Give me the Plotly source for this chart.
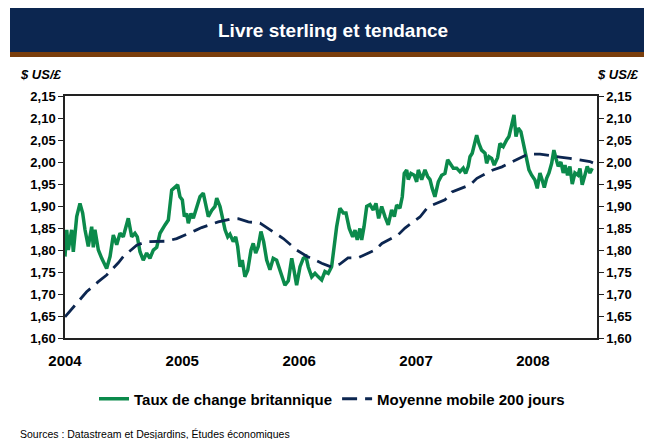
import pandas as pd
import plotly.graph_objects as go

# Taux de change US$/£ (temps en années décimales)
taux_t = [
    2004.000, 2004.015, 2004.028, 2004.057, 2004.071, 2004.100, 2004.128, 2004.151, 2004.171, 2004.199,
    2004.228, 2004.242, 2004.256, 2004.285, 2004.314, 2004.356, 2004.385, 2004.413, 2004.442, 2004.470,
    2004.498, 2004.527, 2004.541, 2004.570, 2004.598, 2004.618, 2004.641, 2004.669, 2004.698, 2004.726,
    2004.755, 2004.784, 2004.812, 2004.855, 2004.883, 2004.912, 2004.940, 2004.963, 2004.983, 2005.003,
    2005.020, 2005.040, 2005.054, 2005.077, 2005.097, 2005.126, 2005.154, 2005.182, 2005.203, 2005.225,
    2005.254, 2005.282, 2005.297, 2005.325, 2005.344, 2005.368, 2005.391, 2005.410, 2005.438, 2005.459,
    2005.476, 2005.496, 2005.515, 2005.538, 2005.562, 2005.590, 2005.609, 2005.630, 2005.652, 2005.675,
    2005.698, 2005.724, 2005.752, 2005.780, 2005.809, 2005.838, 2005.852, 2005.880, 2005.909, 2005.938,
    2005.957, 2005.980, 2006.009, 2006.037, 2006.060, 2006.079, 2006.109, 2006.137, 2006.165, 2006.194,
    2006.222, 2006.250, 2006.279, 2006.293, 2006.322, 2006.350, 2006.379, 2006.402, 2006.430, 2006.459,
    2006.479, 2006.498, 2006.521, 2006.536, 2006.556, 2006.579, 2006.607, 2006.635, 2006.658, 2006.681,
    2006.707, 2006.735, 2006.763, 2006.792, 2006.815, 2006.835, 2006.863, 2006.883, 2006.900, 2006.921,
    2006.934, 2006.957, 2006.985, 2007.006, 2007.020, 2007.049, 2007.077, 2007.100, 2007.120, 2007.139,
    2007.162, 2007.191, 2007.220, 2007.248, 2007.271, 2007.291, 2007.319, 2007.348, 2007.376, 2007.404,
    2007.425, 2007.447, 2007.462, 2007.481, 2007.504, 2007.519, 2007.538, 2007.561, 2007.590, 2007.604,
    2007.624, 2007.647, 2007.669, 2007.698, 2007.718, 2007.746, 2007.775, 2007.795, 2007.818, 2007.838,
    2007.855, 2007.874, 2007.897, 2007.917, 2007.946, 2007.966, 2007.989, 2008.017, 2008.037, 2008.060,
    2008.079, 2008.097, 2008.117, 2008.137, 2008.160, 2008.179, 2008.197, 2008.216, 2008.239, 2008.259,
    2008.274, 2008.296, 2008.316, 2008.336, 2008.359, 2008.385, 2008.402, 2008.421, 2008.444, 2008.464,
    2008.487, 2008.507,
]
taux_val = [
    1.785, 1.846, 1.800, 1.846, 1.796, 1.876, 1.906, 1.884, 1.846, 1.808,
    1.853, 1.806, 1.846, 1.800, 1.781, 1.758, 1.785, 1.834, 1.812, 1.838,
    1.830, 1.861, 1.872, 1.830, 1.838, 1.830, 1.796, 1.777, 1.793, 1.781,
    1.800, 1.806, 1.838, 1.857, 1.868, 1.936, 1.944, 1.948, 1.921, 1.914,
    1.876, 1.883, 1.861, 1.883, 1.872, 1.899, 1.921, 1.929, 1.906, 1.876,
    1.890, 1.899, 1.918, 1.899, 1.876, 1.846, 1.830, 1.836, 1.819, 1.830,
    1.808, 1.762, 1.777, 1.739, 1.754, 1.800, 1.815, 1.793, 1.808, 1.842,
    1.819, 1.777, 1.755, 1.781, 1.777, 1.755, 1.739, 1.720, 1.730, 1.781,
    1.755, 1.720, 1.762, 1.781, 1.785, 1.762, 1.739, 1.747, 1.739, 1.732,
    1.751, 1.747, 1.762, 1.796, 1.853, 1.895, 1.884, 1.884, 1.849, 1.830,
    1.845, 1.823, 1.849, 1.823, 1.853, 1.899, 1.903, 1.891, 1.906, 1.872,
    1.899, 1.876, 1.857, 1.891, 1.876, 1.902, 1.895, 1.921, 1.974, 1.982,
    1.960, 1.974, 1.970, 1.955, 1.982, 1.960, 1.982, 1.967, 1.960, 1.940,
    1.921, 1.955, 1.970, 1.974, 2.005, 1.997, 1.986, 1.986, 1.978, 1.986,
    1.974, 1.990, 2.012, 2.020, 2.046, 2.061, 2.042, 2.027, 2.020, 1.997,
    2.012, 2.008, 1.993, 2.010, 2.042, 2.035, 2.050, 2.058, 2.084, 2.107,
    2.058, 2.077, 2.069, 2.042, 2.005, 1.982, 1.970, 1.959, 1.940, 1.975,
    1.959, 1.942, 1.963, 1.975, 1.997, 2.027, 2.008, 1.990, 2.000, 1.975,
    1.993, 1.970, 1.990, 1.950, 1.975, 1.970, 1.985, 1.948, 1.970, 1.990,
    1.975, 1.986,
]

# Moyenne mobile 200 jours
mm_t = [
    2004.000, 2004.114, 2004.185, 2004.285, 2004.356, 2004.456, 2004.498, 2004.613, 2004.698, 2004.869,
    2004.955, 2005.111, 2005.168, 2005.310, 2005.410, 2005.481, 2005.567, 2005.667, 2005.795, 2005.866,
    2005.980, 2006.066, 2006.194, 2006.279, 2006.350, 2006.419, 2006.504, 2006.650, 2006.709, 2006.846,
    2006.906, 2007.034, 2007.103, 2007.248, 2007.308, 2007.462, 2007.521, 2007.658, 2007.735, 2007.872,
    2007.957, 2008.060, 2008.145, 2008.231, 2008.316, 2008.402, 2008.487, 2008.513,
]
mm_val = [
    1.648, 1.683, 1.705, 1.728, 1.743, 1.771, 1.785, 1.811, 1.819, 1.820,
    1.826, 1.844, 1.851, 1.864, 1.870, 1.871, 1.864, 1.861, 1.838, 1.826,
    1.800, 1.786, 1.770, 1.761, 1.768, 1.782, 1.782, 1.800, 1.815, 1.834,
    1.850, 1.875, 1.898, 1.914, 1.932, 1.948, 1.963, 1.982, 1.989, 2.006,
    2.018, 2.018, 2.014, 2.011, 2.008, 2.005, 2.001, 1.998,
]

annees = ["2004", "2005", "2006", "2007", "2008"]


def to_dates(t):
    debut = pd.Timestamp("2004-01-01")
    return [debut + pd.Timedelta(days=(v - 2004) * 365.25) for v in t]


VERT = "#0b8a4b"
MARINE = "#0c2650"
FONT = "Liberation Sans, Arial, sans-serif"

fig = go.Figure()
fig.add_trace(go.Scatter(x=to_dates(taux_t), y=taux_val, mode="lines",
                         name="Taux de change britannique",
                         line=dict(color=VERT, width=3.5)))
fig.add_trace(go.Scatter(x=to_dates(mm_t), y=mm_val, mode="lines",
                         name="Moyenne mobile 200 jours",
                         line=dict(color=MARINE, width=2.8, dash="15px,8px")))

# the page body has an 8px margin, so the figure is placed at (8, 8)
OFF = 8
W, H = 652 - OFF, 439 - OFF
# plot area in page pixels: x 65..597, y 96..338
L, R, T, B = 65 - OFF, 597 - OFF, 96 - OFF, 338 - OFF


def px(x):
    return (x - OFF - L) / (R - L)


def py(y):
    return (B - (y - OFF)) / (B - T)


fig.update_layout(
    width=W, height=H,
    margin=dict(l=L, r=W - R, t=T, b=H - B),
    paper_bgcolor="white", plot_bgcolor="white",
    separators=", ",
    font=dict(family=FONT, color="black"),
    showlegend=True,
    legend=dict(orientation="h", x=px(332), xanchor="center", y=py(399), yanchor="middle",
                font=dict(size=15, weight="bold"), itemwidth=30),
    xaxis=dict(type="date", range=["2004-01-01", "2008-07-19"],
               tickvals=[pd.Timestamp(a + "-01-01") for a in annees], ticktext=annees,
               ticks="", showgrid=False, zeroline=False,
               showline=True, linecolor="#222", linewidth=1.5, mirror=True,
               tickfont=dict(size=15, weight="bold"), ticklabelstandoff=8),
    yaxis=dict(range=[1.60, 2.15], dtick=0.05, tickformat=".2f",
               ticks="outside", ticklen=5, tickcolor="#222", showgrid=False, zeroline=False,
               showline=True, linecolor="#222", linewidth=1.5,
               tickfont=dict(size=13, weight="bold")),
    yaxis2=dict(range=[1.60, 2.15], dtick=0.05, tickformat=".2f", overlaying="y", side="right",
                ticks="outside", ticklen=5, tickcolor="#222", showgrid=False, zeroline=False,
                showline=True, linecolor="#222", linewidth=1.5,
                tickfont=dict(size=13, weight="bold")),
    shapes=[
        dict(type="rect", xref="paper", yref="paper", x0=px(10), x1=px(660), y0=py(52), y1=py(8),
             fillcolor=MARINE, line=dict(width=0), layer="below"),
        dict(type="rect", xref="paper", yref="paper", x0=px(10), x1=px(660), y0=py(57), y1=py(52),
             fillcolor="#7a3e0c", line=dict(width=0), layer="below"),
    ],
    annotations=[
        dict(text="Livre sterling et tendance", xref="paper", yref="paper", x=px(333), y=py(31),
             xanchor="center", yanchor="middle", showarrow=False,
             font=dict(size=19, color="white", weight="bold")),
        dict(text="<i>$ US/£</i>", xref="paper", yref="paper", x=px(18), y=py(74),
             xanchor="left", yanchor="middle", showarrow=False,
             font=dict(size=13, weight="bold")),
        dict(text="<i>$ US/£</i>", xref="paper", yref="paper", x=px(641), y=py(74),
             xanchor="right", yanchor="middle", showarrow=False,
             font=dict(size=13, weight="bold")),
        dict(text="Sources : Datastream et Desjardins, Études économiques", xref="paper", yref="paper",
             x=px(18), y=py(434), xanchor="left", yanchor="middle", showarrow=False,
             font=dict(size=10.5)),
    ],
)

# dummy trace so the right axis is drawn
fig.add_trace(go.Scatter(x=[pd.Timestamp("2004-01-01")], y=[1.6], yaxis="y2", mode="lines",
                         showlegend=False, hoverinfo="skip", line=dict(width=0)))

fig.write_html("out.html")
